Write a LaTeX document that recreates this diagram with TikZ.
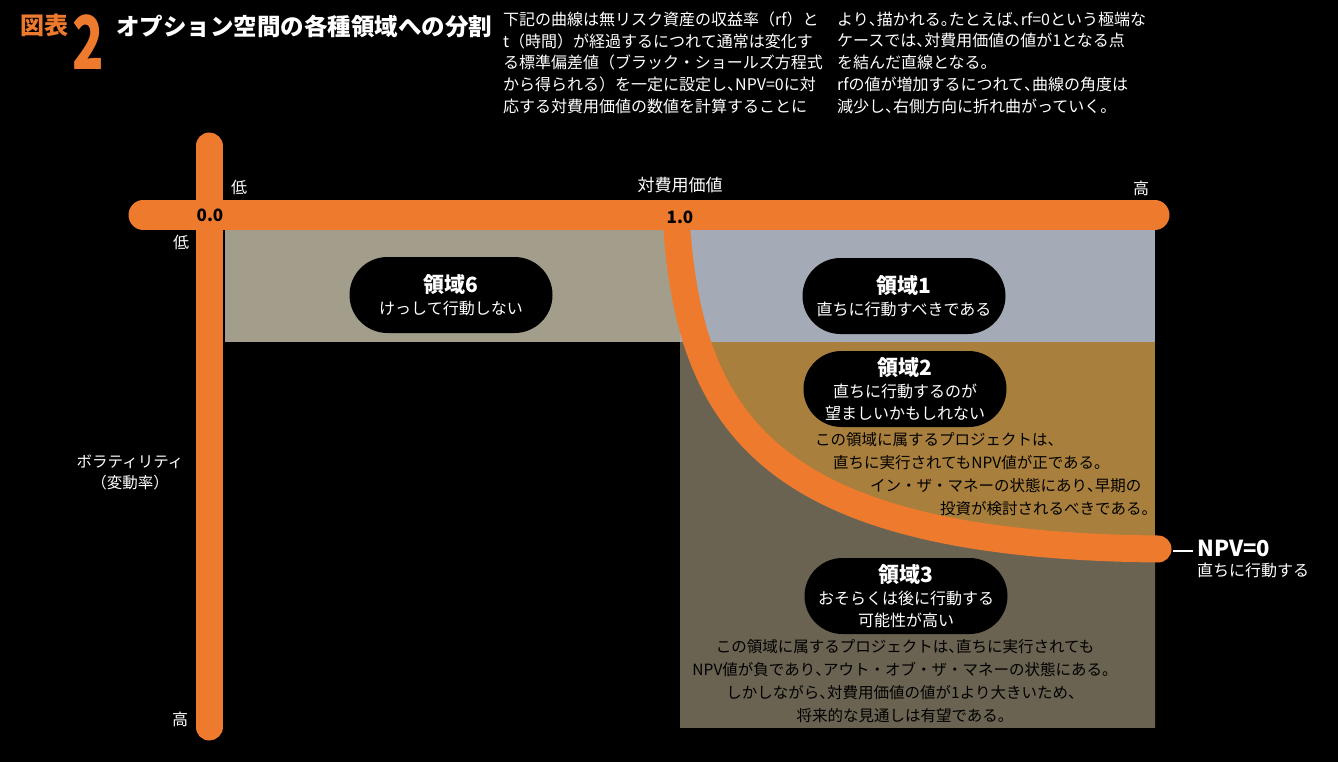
\documentclass[tikz,border=0pt]{standalone}
\usepackage{fontspec}
\setmainfont{Noto Sans CJK JP}
\usepackage{xcolor}
\usepackage{graphicx}
\usepackage{tikz}
\usetikzlibrary{positioning}

\definecolor{axisorange}{RGB}{238,122,46}
\definecolor{zonebeige}{RGB}{163,158,139}
\definecolor{zoneblue}{RGB}{164,171,183}
\definecolor{zonegold}{RGB}{168,127,60}
\definecolor{zoneolive}{RGB}{106,99,81}
\newcommand\halfpunct[1]{{\addfontfeatures{RawFeature=+halt}#1}}

\begin{document}
\begin{tikzpicture}[
    x=1pt, y=-1pt,
    node distance=6pt,
    axis/.style={draw=axisorange, line width=29pt, line cap=round},
    pill/.style={rectangle, fill=black, text=white, rounded corners=38pt, minimum width=203pt, minimum height=76pt, inner sep=1pt, align=center, font=\fontsize{16}{22}\selectfont},
    lbl/.style={text=white, font=\fontsize{16}{21.5}\selectfont, inner sep=0pt, align=center},
    note/.style={text=white, font=\fontsize{16}{21.8}\selectfont, inner sep=0pt, align=left, anchor=north west},
    desc/.style={text=black, font=\fontsize{15.5}{23}\selectfont, inner sep=0pt},
    scalenum/.style={text=black, font=\fontsize{17}{20}\selectfont\bfseries, inner sep=0pt}
]
    \useasboundingbox (0,0) rectangle (1338,762);
    \fill[black] (0,0) rectangle (1338,762);

    % zones
    \fill[zonebeige] (225,229) rectangle (680,342);
    \fill[zoneblue] (680,229) rectangle (1155,342);
    \fill[zonegold] (680,342) rectangle (1155,727);
    \begin{scope}
        \clip (680,342) rectangle (1155,727);
        \fill[zoneolive] (676,216) .. controls (688,425) and (770,545) .. (1158,549) -- (1158,740) -- (660,740) -- cycle;
    \end{scope}

    % axes and the NPV=0 curve
    \coordinate (xstart) at (143,215);
    \coordinate (xend) at (1155,215);
    \coordinate (ystart) at (209,146);
    \coordinate (yend) at (209,727);
    \coordinate (curvetop) at (676,216);
    \coordinate (npvend) at (1158,549);
    \draw[axis] (xstart) -- (xend);
    \draw[axis, line width=27pt] (ystart) -- (yend);
    \draw[axis, line width=27pt] (curvetop) .. controls (688,425) and (770,545) .. (npvend);

    % header
    \node[text=axisorange, font=\fontsize{24}{24}\selectfont\bfseries, inner sep=0pt] (figlabel) at (44,25) {図表};
    \node[text=axisorange, font=\fontsize{74}{74}\selectfont\bfseries, inner sep=0pt] (fignum) at (88,42) {\scalebox{0.7}[1]{2}};
    \node[text=white, font=\fontsize{23.5}{24}\selectfont\bfseries, inner sep=0pt, anchor=west] (title) at (116,26.5) {オプション空間の各種領域への分割};
    \node[note] (noteleft) at (503,11.5) {下記の曲線は無リスク資産の収益率（rf）と\\t（時間）が経過するにつれて通常は変化す\\る標準偏差値（ブラック・ショールズ方程式\\から得られる）を一定に設定し\halfpunct{、}NPV=0に対\\応する対費用価値の数値を計算することに};
    \node[note] (noteright) at (837,11.5) {より\halfpunct{、}描かれる\halfpunct{。}たとえば\halfpunct{、}rf=0という極端な\\ケースでは\halfpunct{、}対費用価値の値が1となる点\\を結んだ直線となる。\\rfの値が増加するにつれて\halfpunct{、}曲線の角度は\\減少し\halfpunct{、}右側方向に折れ曲がっていく。};

    % axis labels
    \node[lbl] (xlow) at (239,187) {低};
    \node[lbl, font=\fontsize{17}{20}\selectfont] (xtitle) at (680,185) {対費用価値};
    \node[lbl] (xhigh) at (1141,188) {高};
    \node[lbl] (ylow) at (181,242) {低};
    \node[lbl] (yhigh) at (180,719) {高};
    \node[lbl, font=\fontsize{15.5}{21.5}\selectfont] (ytitle) at (130,472.5) {ボラティリティ\\（変動率）};
    \node[scalenum] (zero) at (210,215) {0.0};
    \node[scalenum] (one) at (680,217) {1.0};

    % zones
    \node[pill] (zone6) at (451,295) {{\fontsize{21}{22}\selectfont\bfseries 領域6}\\けっして行動しない};
    \node[pill] (zone1) at (904,296) {{\fontsize{21}{22}\selectfont\bfseries 領域1}\\直ちに行動すべきである};
    \node[pill] (zone2) at (905,389) {{\fontsize{21}{22}\selectfont\bfseries 領域2}\\直ちに行動するのが\\望ましいかもしれない};
    \node[pill] (zone3) at (906,596) {{\fontsize{21}{22}\selectfont\bfseries 領域3}\\おそらくは後に行動する\\可能性が高い};
    \node[desc, align=left, anchor=north west] (zone2note) at (815,432) {この領域に属するプロジェクトは、\\\hspace*{18pt}直ちに実行されてもNPV値が正である。\\\hspace*{55pt}イン・ザ・マネーの状態にあり\halfpunct{、}早期の\\\hspace*{125pt}投資が検討されるべきである。};
    \node[desc, align=center, anchor=north] (zone3note) at (905,639) {この領域に属するプロジェクトは\halfpunct{、}直ちに実行されても\\NPV値が負であり\halfpunct{、}アウト・オブ・ザ・マネーの状態にある。\\しかしながら\halfpunct{、}対費用価値の値が1より大きいため、\\将来的な見通しは有望である。};

    % NPV=0 label
    \node[text=white, font=\fontsize{22}{22}\selectfont\bfseries, inner sep=0pt, anchor=west] (npv) at (1197,548) {NPV=0};
    \node[lbl, below right=6pt and 0pt of npv.south west] (npvnote) {直ちに行動する};
    \coordinate (tickstart) at (1173,551);
    \draw[white, line width=2pt, shorten >=4pt] (tickstart) -- (tickstart -| npv.west);
\end{tikzpicture}
\end{document}
